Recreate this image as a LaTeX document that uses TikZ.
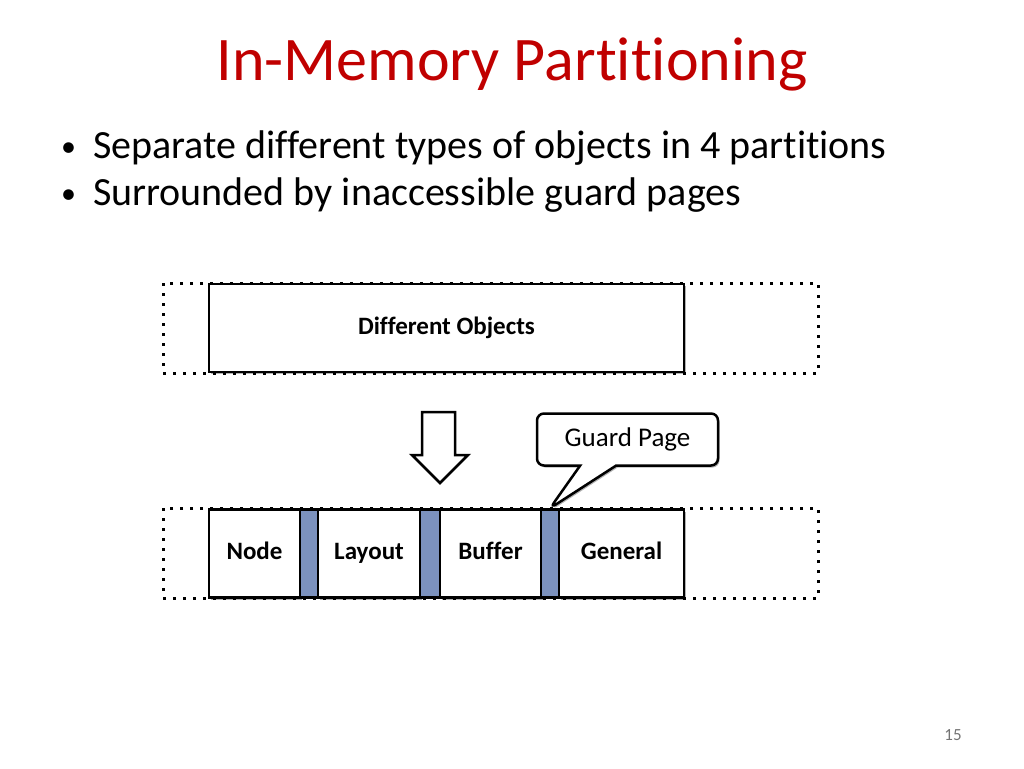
\documentclass[tikz,border=0pt]{standalone}
\usepackage{fontspec}
\setmainfont[Ligatures=NoCommon]{Carlito}
\usetikzlibrary{positioning,
                shapes.callouts,
                shadows}
\definecolor{title_c}{RGB}{192,0,0}
\definecolor{guard_c}{RGB}{124,146,190}

\begin{document}
\begin{tikzpicture}[
			x=1pt, y=-1pt,
			pool/.style = {draw, line width=3pt, dash pattern=on 3pt off 7pt},
			shade/.style = {drop shadow={shadow xshift=1.5pt, shadow yshift=-2pt, opacity=0.3, fill=black}},
			part/.style = {draw, line width=2.5pt, fill=white, inner sep=0pt, minimum height=88pt, shade,
			               text height=1.2em, text depth=0pt,
			               font=\fontsize{25}{30}\selectfont\bfseries},
			guard/.style = {draw, line width=2.5pt, fill=guard_c, minimum height=88pt, inner sep=0pt},
			bullet/.style = {anchor=base west, inner sep=0pt, font=\fontsize{40}{48}\selectfont},
			]
			\useasboundingbox (0,0) rectangle (1024,768);
			% title and bullets
			\node[anchor=base, text=title_c, font=\fontsize{62}{74}\selectfont] (title) at (512,80) {In-Memory Partitioning};
			\node[bullet, font=\fontsize{30}{36}\selectfont] (b1) at (61,156) {\textbullet};
			\node[bullet] (t1) at (93,158) {Separate different types of objects in 4 partitions};
			\node[bullet, font=\fontsize{30}{36}\selectfont] (b2) at (61,203) {\textbullet};
			\node[bullet] (t2) at (93,205) {Surrounded by inaccessible guard pages};
			% pools
			\draw[pool] (163,283) rectangle (818,373);
			\draw[pool] (163,508) rectangle (818,598);
			% objects
			\node[part, minimum width=475pt] (objs) at (446.5,328) {Different Objects};
			% arrow
			\draw[line width=2.5pt, fill=white] (422,412) -- (455,412) -- (455,455) -- (468,455)
			  -- (440,483) -- (412,455) -- (422,455) -- cycle;
			% partitions
			\node[part, minimum width=91pt] (p1) at (254.5,553.5) {Node};
			\node[part, minimum width=102pt] (p2) at (369,553.5) {Layout};
			\node[part, minimum width=101pt] (p3) at (490.5,553.5) {Buffer};
			\node[part, minimum width=125pt] (p4) at (621.5,553.5) {General};
			\node[guard, minimum width=18pt] (g1) at (309,553.5) {};
			\node[guard, minimum width=20pt] (g2) at (430,553.5) {};
			\node[guard, minimum width=18pt] (g3) at (550,553.5) {};
			% note
			\node[rectangle callout, draw, line width=2.5pt, fill=white, rounded corners=7pt, shade,
			      minimum width=181pt, minimum height=52pt, callout pointer width=36pt,
			      callout absolute pointer={(g3.north)}, font=\fontsize{27}{32}\selectfont] (note) at (627.5,439.5) {Guard Page};
			% page number
			\node[anchor=base, text=black!55, font=\fontsize{17}{20}\selectfont] (num) at (953,740) {15};
		\end{tikzpicture}
\end{document}
